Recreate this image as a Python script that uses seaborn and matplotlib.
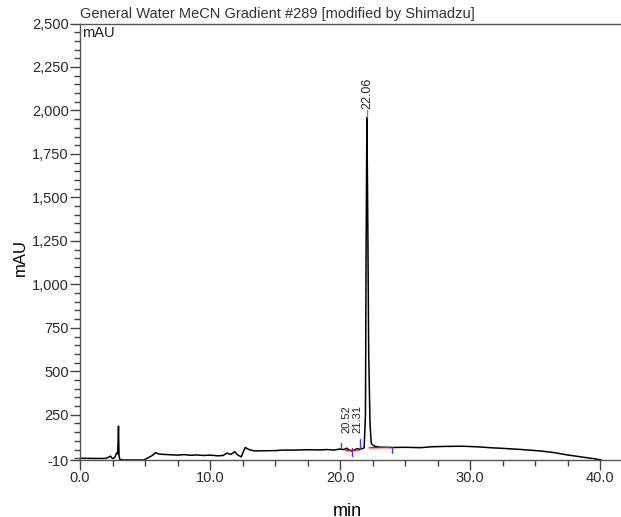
import numpy as np
import pandas as pd
import seaborn as sns
import matplotlib.pyplot as plt
from matplotlib.ticker import FixedLocator, MultipleLocator, FuncFormatter

# chromatogram trace (min, mAU)
time_min = [0.0, 1.0, 2.0, 2.35, 2.45, 2.55, 2.7, 2.8, 2.9, 2.96, 3.0, 3.05, 3.15, 3.3,
            4.2, 4.9, 5.3, 5.6, 5.8, 6.1, 6.5, 7.0, 7.5, 8.0, 8.5, 9.0, 9.5, 10.0,
            10.6, 11.0, 11.3, 11.6, 11.9, 12.1, 12.4, 12.7, 13.0, 13.4, 14.0, 15.0,
            15.6, 16.5, 17.5, 18.5, 19.0, 19.5, 20.0, 20.3, 20.52, 20.7, 20.9, 21.1,
            21.31, 21.5, 21.7, 21.85, 21.95, 22.0, 22.06, 22.12, 22.2, 22.3, 22.4,
            22.6, 23.0, 24.0, 25.0, 26.2, 27.0, 28.0, 29.0, 29.5, 30.5, 31.7, 32.5,
            33.8, 35.4, 36.5, 37.4, 38.5, 39.5, 40.1]
signal = [0, -1, -1, 12, 2, -2, 8, 30, 25, 185, 20, -5, -8, -10,
          -10, -10, 5, 18, 32, 24, 22, 20, 18, 21, 17, 19, 16, 18,
          14, 16, 30, 22, 38, 20, 8, 62, 50, 42, 43, 44,
          47, 47, 49, 48, 50, 47, 53, 50, 58, 46, 42, 48,
          56, 52, 55, 60, 250, 1200, 1960, 1450, 600, 200, 85,
          70, 64, 62, 63, 61, 66, 68, 69, 69, 66, 60, 57,
          51, 42, 32, 20, 8, -2, -10]

# peak labels
peak_rt = [20.52, 21.31, 22.06]
peak_label_y = [145, 145, 2010]
peak_names = ["20.52", "21.31", "22.06"]

# integration marks
blue_t = [20.1, 20.9, 21.5, 24.0]
blue_lo = [57, 13, 55, 30]
blue_hi = [89, 57, 110, 62]
red_t0 = [20.45, 22.25]
red_t1 = [21.5, 23.9]
red_y0 = [45, 60]
red_y1 = [48, 62]

y_ticks = [-10, 250, 500, 750, 1000, 1250, 1500, 1750, 2000, 2250, 2500]
x_ticks = [0, 10, 20, 30, 40]

sns.set_style("ticks")
plt.rcParams["font.family"] = ["Liberation Sans", "DejaVu Sans"]

df = pd.DataFrame({"min": time_min, "mAU": signal})

fig = plt.figure(figsize=(6.21, 5.17), dpi=100)
ax = fig.add_axes([80 / 621, 1 - 460 / 517, 1 - 80 / 621, (460 - 23.5) / 517])

sns.lineplot(data=df, x="min", y="mAU", ax=ax, color="black", lw=1.1,
             estimator=None, sort=False)

for t, lo, hi in zip(blue_t, blue_lo, blue_hi):
    ax.plot([t, t], [lo, hi], color="#3a3aff", lw=1)
for a, b, c, d in zip(red_t0, red_t1, red_y0, red_y1):
    ax.plot([a, b], [c, d], color="red", lw=1)

for rt, yy, name in zip(peak_rt, peak_label_y, peak_names):
    ax.text(rt, yy, name, rotation=90, ha="center", va="bottom",
            fontsize=9 if name == "22.06" else 8, color="#222222")
ax.plot([22.06, 22.06], [1960, 2000], color="#888888", lw=1)

ax.set_xlim(0, 41.6)
ax.set_ylim(-10, 2500)
ax.yaxis.set_major_locator(FixedLocator(y_ticks))
ax.yaxis.set_minor_locator(MultipleLocator(50))
ax.xaxis.set_major_locator(FixedLocator(x_ticks))
ax.xaxis.set_minor_locator(MultipleLocator(2.5))
ax.yaxis.set_major_formatter(FuncFormatter(lambda v, p: f"{int(v):,}"))
ax.xaxis.set_major_formatter(FuncFormatter(lambda v, p: f"{v:.1f}"))

ax.tick_params(axis="both", which="major", length=7, width=1, color="#444444",
               labelsize=10.5, labelcolor="#2b2b2b", pad=1)
ax.tick_params(axis="both", which="minor", length=4, width=1, color="#444444")

for side in ["left", "bottom", "top"]:
    ax.spines[side].set_color("#555555")
    ax.spines[side].set_linewidth(1)
ax.spines["right"].set_visible(False)

ax.set_xlabel("")
ax.set_ylabel("")
ax.text(0.003, 0.995, "mAU", transform=ax.transAxes, ha="left", va="top",
        fontsize=10.5, color="#222222")
ax.text(0.0, 1.005, "General Water MeCN Gradient #289 [modified by Shimadzu]",
        transform=ax.transAxes, ha="left", va="bottom", fontsize=10.5,
        color="#333333")

fig.text(20 / 621, 1 - 257 / 517, "mAU", rotation=90, ha="center", va="center",
         fontsize=12, color="black")
fig.text(347 / 621, 0.002, "min", ha="center", va="baseline", fontsize=13,
         color="black")

fig.savefig("out.png", dpi=100)
